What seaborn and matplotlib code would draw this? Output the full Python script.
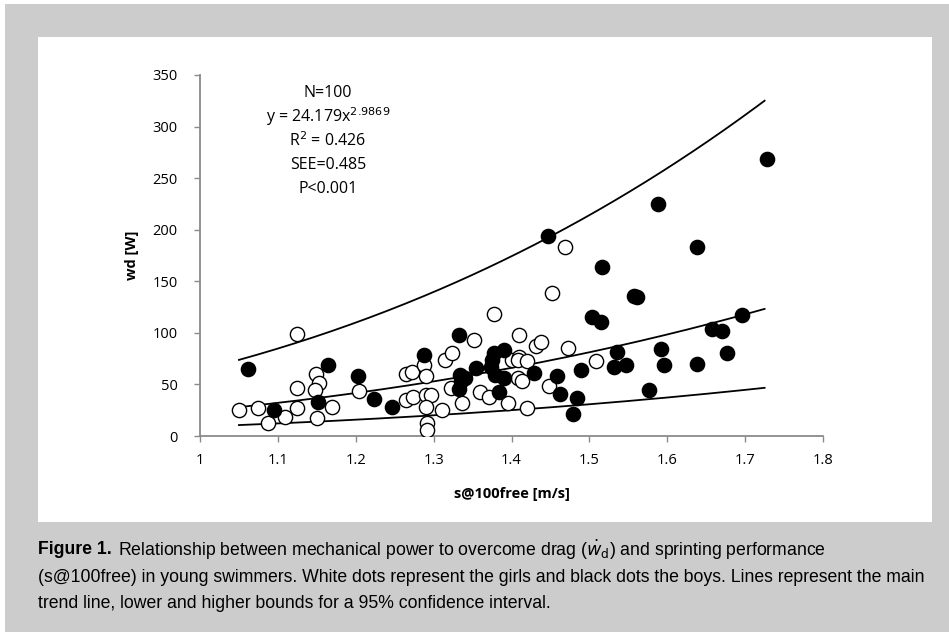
import numpy as np
import pandas as pd
import matplotlib
matplotlib.use("Agg")
import matplotlib.pyplot as plt
from matplotlib.patches import Rectangle
import seaborn as sns

# ---- data ----
girls_speed = [1.050, 1.075, 1.087, 1.109, 1.124, 1.124, 1.125, 1.149, 1.153, 1.148,
               1.150, 1.169, 1.204, 1.265, 1.272, 1.288, 1.290, 1.265, 1.274, 1.290,
               1.297, 1.290, 1.311, 1.291, 1.291, 1.314, 1.323, 1.3775, 1.352, 1.410,
               1.431, 1.438, 1.473, 1.401, 1.409, 1.408, 1.4195, 1.408, 1.414, 1.3595,
               1.3715, 1.336, 1.396, 1.4195, 1.448, 1.469, 1.452, 1.509, 1.322]
girls_power = [25, 27, 13, 18, 27, 47, 99, 60, 51, 45,
               17, 28, 44, 60, 62, 69, 58, 35, 38, 40,
               40, 28, 25, 13, 6, 74, 80, 118, 93, 98,
               87, 91, 85, 74, 77, 74, 73, 56, 53, 43,
               38, 32, 32, 27, 48, 183, 139, 73, 47]

boys_speed = [1.061, 1.095, 1.151, 1.164, 1.2025, 1.224, 1.247, 1.288, 1.333, 1.354,
              1.334, 1.335, 1.332, 1.378, 1.391, 1.375, 1.374, 1.379, 1.391, 1.384,
              1.429, 1.459, 1.462, 1.4785, 1.484, 1.489, 1.4465, 1.5886, 1.7277, 1.6378,
              1.516, 1.557, 1.5615, 1.504, 1.5145, 1.535, 1.531, 1.547, 1.592, 1.596,
              1.638, 1.577, 1.657, 1.670, 1.6956, 1.677, 1.340]
boys_power = [65, 25, 33, 69, 58, 36, 28, 79, 98, 66,
              59, 53, 46, 80, 83, 74, 67, 59, 56, 43,
              61, 58, 41, 21, 37, 64, 194, 225, 269, 183,
              164, 136, 135, 115, 111, 81, 67, 69, 84, 69,
              70, 45, 104, 102, 117, 80, 56]

# fitted model printed on the chart: y = a * x^b, SEE in log units
fit_a = 24.179
fit_b = 2.9869
fit_see = 0.485
fit_z = 2.0
fit_range = [1.05, 1.725]

x_ticks = [1, 1.1, 1.2, 1.3, 1.4, 1.5, 1.6, 1.7, 1.8]
x_ticklabels = ["1", "1.1", "1.2", "1.3", "1.4", "1.5", "1.6", "1.7", "1.8"]
y_ticks = [0, 50, 100, 150, 200, 250, 300, 350]

stats_lines = ["N=100", r"y = 24.179x$^{2.9869}$", r"R$^{2}$ = 0.426", "SEE=0.485", "P<0.001"]

# ---- figure ----
W, H = 949, 632
fig = plt.figure(figsize=(W / 100, H / 100), dpi=100)
fig.patch.set_facecolor("white")

def px_rect(x0, y0, x1, y1, color, z):
    fig.patches.append(Rectangle((x0 / W, 1 - y1 / H), (x1 - x0) / W, (y1 - y0) / H,
                                 transform=fig.transFigure, facecolor=color,
                                 edgecolor="none", zorder=z))

px_rect(5, 4, 949, 632, "#cccccc", -10)
px_rect(38, 37, 932, 522, "white", -9)

ax_left, ax_right, ax_top, ax_bottom = 200, 823, 75, 436
ax = fig.add_axes([ax_left / W, 1 - ax_bottom / H, (ax_right - ax_left) / W,
                   (ax_bottom - ax_top) / H])
ax.set_facecolor("none")

girls = pd.DataFrame({"speed": girls_speed, "power": girls_power})
boys = pd.DataFrame({"speed": boys_speed, "power": boys_power})

xf = np.linspace(fit_range[0], fit_range[1], 200)
yf = fit_a * xf ** fit_b
lines = pd.DataFrame({
    "speed": np.concatenate([xf, xf, xf]),
    "power": np.concatenate([yf, yf * np.exp(fit_z * fit_see), yf * np.exp(-fit_z * fit_see)]),
    "line": ["main"] * len(xf) + ["upper"] * len(xf) + ["lower"] * len(xf),
})
sns.lineplot(data=lines, x="speed", y="power", units="line", estimator=None,
             color="black", linewidth=1.3, ax=ax, zorder=2)

sns.scatterplot(data=girls, x="speed", y="power", ax=ax, s=105, facecolor="white",
                edgecolor="black", linewidth=1.0, zorder=3)
sns.scatterplot(data=boys, x="speed", y="power", ax=ax, s=105, color="black",
                edgecolor="black", linewidth=1.0, zorder=4)

ax.set_xlim(1, 1.8)
ax.set_ylim(0, 350)
ax.set_xticks(x_ticks)
ax.set_xticklabels(x_ticklabels)
ax.set_yticks(y_ticks)
for s in ["top", "right"]:
    ax.spines[s].set_visible(False)
for s in ["left", "bottom"]:
    ax.spines[s].set_color("#8a8a8a")
    ax.spines[s].set_linewidth(1.3)
ax.tick_params(axis="y", direction="out", length=4, color="#8a8a8a", width=1,
               labelsize=10.5, pad=12)
ax.tick_params(axis="x", direction="out", length=4, color="#8a8a8a", width=1,
               labelsize=10.5, pad=8)
for lab in ax.get_xticklabels() + ax.get_yticklabels():
    lab.set_fontfamily("Open Sans")
ax.set_xlabel("s@100free [m/s]", fontsize=10.5, fontweight="bold", family="Open Sans",
              labelpad=14)
ax.set_ylabel("wd [W]", fontsize=10.5, fontweight="bold", family="Open Sans", labelpad=10)

for i, t in enumerate(stats_lines):
    fig.text(328 / W, 1 - (93 + 24 * i) / H, t, ha="center", va="center",
             fontsize=11.5, family="Open Sans")

# ---- caption ----
cap_font = ["Liberation Sans"]
cap_size = 12.7
lines_cap = [
    r"Relationship between mechanical power to overcome drag ($\dot{w}_{\mathrm{d}}$) and sprinting performance",
    "(s@100free) in young swimmers. White dots represent the girls and black dots the boys. Lines represent the main",
    "trend line, lower and higher bounds for a 95% confidence interval.",
]
ys = [550, 577, 603]
bold = fig.text(38 / W, 1 - ys[0] / H, "Figure 1.", fontsize=cap_size, fontweight="bold",
                family=cap_font, va="center", ha="left")
fig.canvas.draw()
bb = bold.get_window_extent(renderer=fig.canvas.get_renderer())
fig.text((bb.x1 + 6) / W, 1 - ys[0] / H, lines_cap[0], fontsize=cap_size,
         family=cap_font, va="center", ha="left")
for t, y in zip(lines_cap[1:], ys[1:]):
    fig.text(38 / W, 1 - y / H, t, fontsize=cap_size, family=cap_font, va="center", ha="left")

fig.savefig("out.png", dpi=100, facecolor=fig.get_facecolor())
